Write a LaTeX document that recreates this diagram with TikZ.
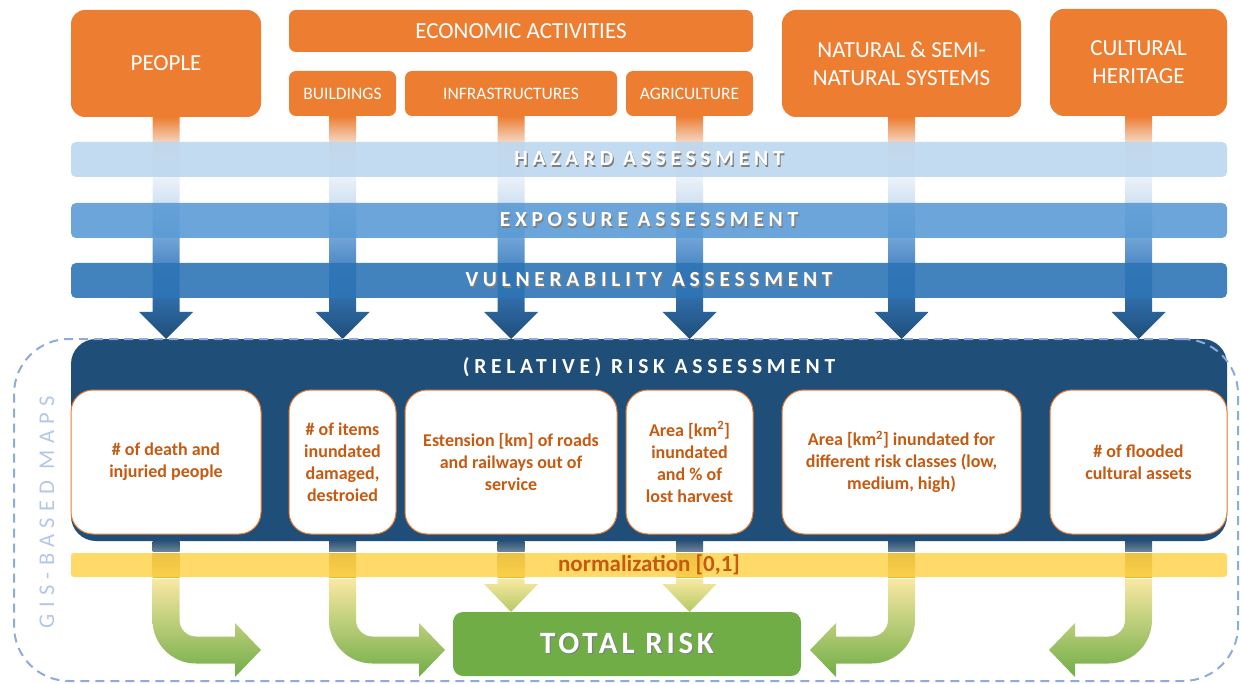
\documentclass[tikz,border=0pt]{standalone}
\usepackage{fontspec}
\setmainfont{Carlito}
\newfontfamily\trackedfont[LetterSpace=22]{Carlito}
\newfontfamily\gisfont[LetterSpace=28]{Carlito}
\newfontfamily\totalfont[LetterSpace=12]{Carlito}
\usetikzlibrary{calc}

\definecolor{orangebox}{HTML}{ED7D31}
\definecolor{orangetext}{HTML}{C55A11}
\definecolor{orangepale}{HTML}{F4D9C8}
\definecolor{hazardblue}{HTML}{BDD7EE}
\definecolor{exposureblue}{HTML}{5B9BD5}
\definecolor{vulnblue}{HTML}{2E75B6}
\definecolor{panelblue}{HTML}{1F4E79}
\definecolor{arrowwhite}{HTML}{EEF3FA}
\definecolor{arrowpale}{HTML}{D3E3F2}
\definecolor{arrowmid}{HTML}{6FA3D6}
\definecolor{arrowdeep}{HTML}{4F8BC6}
\definecolor{arrowdark}{HTML}{2F6CA8}
\definecolor{connblue}{HTML}{2C5378}
\definecolor{connlight}{HTML}{6B8299}
\definecolor{conngold}{HTML}{7A5A10}
\definecolor{connyellow}{HTML}{E8B828}
\definecolor{bandyellow}{HTML}{FFD44E}
\definecolor{riskgreen}{HTML}{70AD47}
\definecolor{paleyellow}{HTML}{F9E8A2}
\definecolor{midgreen}{HTML}{B4C965}
\definecolor{gisblue}{HTML}{8FAADC}
\definecolor{gistext}{HTML}{B4C7E7}
\definecolor{txtshadow}{HTML}{7F7F7F}

% orange on top, dark blue at the tip
\pgfdeclareverticalshading{downarrow}{100bp}{color(0bp)=(panelblue); color(25bp)=(panelblue);
  color(34bp)=(arrowdark); color(42bp)=(arrowdeep); color(47.5bp)=(arrowmid); color(56bp)=(arrowpale);
  color(62bp)=(arrowwhite); color(69bp)=(orangepale); color(75bp)=(orangebox); color(100bp)=(orangebox)}

\newcommand\shadowed[1]{\rlap{\kern1.2pt\raisebox{-1.2pt}{\color{txtshadow}#1}}#1}

\tikzset{
  topbox/.style={fill=orangebox, text=white, rounded corners=14pt, align=center,
    inner sep=0pt, outer sep=0pt, minimum height=107pt, font=\fontsize{23}{28}\selectfont},
  subbox/.style={topbox, rounded corners=7pt, minimum height=45pt, font=\fontsize{17.5}{21}\selectfont},
  bar/.style={rounded corners=5pt, minimum width=1156pt, minimum height=35pt, inner sep=0pt,
    outer sep=0pt, text=white, fill opacity=0.9, text opacity=1,
    font=\trackedfont\bfseries\fontsize{21.5}{24}\selectfont},
  riskbox/.style={fill=white, draw=orangebox, line width=1pt, rounded corners=22pt,
    minimum height=144pt, inner sep=0pt, outer sep=0pt, text=orangetext, align=center,
    font=\bfseries\fontsize{18}{22}\selectfont},
  greenarrow/.style={top color=paleyellow, bottom color=riskgreen},
}

\begin{document}
\begin{tikzpicture}[x=1pt, y=-1pt]
\useasboundingbox (0,0) rectangle (1241,684);

% elements at risk
\node[topbox, minimum width=190pt] (people) at (166,63.5) {PEOPLE};
\node[topbox, minimum width=464pt, minimum height=42pt, rounded corners=7pt] (econ) at (521,31) {ECONOMIC ACTIVITIES};
\node[subbox, minimum width=107pt] (build) at (342.5,93.5) {BUILDINGS};
\node[subbox, minimum width=212pt] (infra) at (511,93.5) {INFRASTRUCTURES};
\node[subbox, minimum width=127pt] (agri) at (689.5,93.5) {AGRICULTURE};
\node[topbox, minimum width=239pt] (natural) at (901.5,63.5) {NATURAL \& SEMI-\\NATURAL SYSTEMS};
\node[topbox, minimum width=177pt] (cultural) at (1138.5,62.5) {CULTURAL\\HERITAGE};

% risk panel
\node[fill=panelblue, rounded corners=25pt, minimum width=1156pt, minimum height=202pt,
  inner sep=0pt, outer sep=0pt] (panel) at (649,440) {};
\node[text=white, font=\trackedfont\bfseries\fontsize{21.5}{24}\selectfont] (risktitle) at (649,367)
  {(RELATIVE) RISK ASSESSMENT};

\node[riskbox, minimum width=190pt] (r1) at (166,462) {\# of death and\\injuried people};
\node[riskbox, minimum width=107pt] (r2) at (342.5,462) {\# of items\\inundated\\damaged,\\destroied};
\node[riskbox, minimum width=212pt] (r3) at (511,462) {Estension [km] of roads\\and railways out of\\service};
\node[riskbox, minimum width=127pt] (r4) at (689.5,462) {Area [km\textsuperscript{2}]\\inundated\\and \% of\\lost harvest};
\node[riskbox, minimum width=239pt] (r5) at (901.5,462) {Area [km\textsuperscript{2}] inundated for\\different risk classes (low,\\medium, high)};
\node[riskbox, minimum width=177pt] (r6) at (1138.5,462) {\# of flooded\\cultural assets};

% arrows through the assessments
\foreach \n in {people,build,infra,agri,natural,cultural}
  \shade[shading=downarrow] ($(\n.south)+(-13.5,0)$) -- ($(\n.south |- panel.north)+(-13.5,-27)$)
    -- ++(-13.5,0) -- (\n.south |- panel.north) -- ++(27,-27) -- ++(-13.5,0)
    -- ($(\n.south)+(13.5,0)$) -- cycle;

\node[bar, fill=hazardblue] (hazard) at (649,159.5) {\shadowed{HAZARD ASSESSMENT}};
\node[bar, fill=exposureblue] (exposure) at (649,220.5) {\shadowed{EXPOSURE ASSESSMENT}};
\node[bar, fill=vulnblue] (vuln) at (649,280.5) {\shadowed{VULNERABILITY ASSESSMENT}};

% normalization
\foreach \n in {r1,r2,r3,r4,r5,r6} {
  \shade[top color=connblue, bottom color=connlight] ($(\n.south |- panel.south)+(-13.5,0)$) rectangle ++(27,10);
  \shade[top color=conngold, bottom color=connyellow] ($(\n.south |- panel.south)+(-13.5,12)$) rectangle ++(27,24);
}
\node[fill=bandyellow, fill opacity=0.85, text opacity=1, rounded corners=3pt, minimum width=1156pt,
  minimum height=24pt, inner sep=0pt, outer sep=0pt, text=orangetext,
  font=\bfseries\fontsize{23}{26}\selectfont] (band) at (649,565) {normalization [0,1]};

% towards total risk
\foreach \n in {r3,r4}
  \shade[top color=paleyellow, bottom color=midgreen] ($(\n.south |- band.south)+(-13.5,2)$) -- ++(0,5)
    -- ++(-13.5,0) -- ++(27,28) -- ++(27,-28) -- ++(-13.5,0) -- ++(0,-5) -- cycle;
\foreach \n/\L/\s in {r1/39/1, r2/46.5/1, r5/35.5/-1, r6/33.5/-1}
  \shade[greenarrow] ($(\n.south |- band.south)+(-\s*13.5,2)$) -- ++(0,41)
    arc[start angle=90+90*\s, end angle=90, radius=43.5] -- ++(\s*\L,0) -- ++(0,13.5)
    -- ++(\s*26,-27) -- ++(-\s*26,-27) -- ++(0,13.5) -- ++(-\s*\L,0)
    arc[start angle=90, end angle=90+90*\s, radius=16.5] -- ++(0,-41) -- cycle;

\node[fill=riskgreen, rounded corners=10pt, minimum width=348pt, minimum height=64pt, inner sep=0pt,
  text=white, font=\totalfont\bfseries\fontsize{31}{36}\selectfont] (total) at (627,644) {\shadowed{TOTAL RISK}};

% gis frame
\node[draw=gisblue, line width=2pt, dash pattern=on 9pt off 6pt, rounded corners=55pt,
  minimum width=1224pt, minimum height=342pt, inner sep=0pt] (gis) at (626,510) {};
\node[rotate=90, text=gistext, font=\gisfont\fontsize{22.5}{26}\selectfont] (gislabel) at (47,512) {GIS-BASED MAPS};

\end{tikzpicture}
\end{document}
